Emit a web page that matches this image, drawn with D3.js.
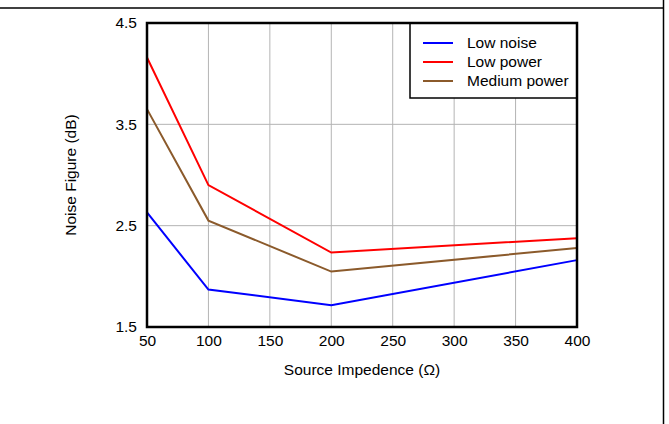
<!DOCTYPE html>
<html><head><meta charset="utf-8">
<script src="https://cdn.jsdelivr.net/npm/d3@7"></script>
<style>body{margin:0;background:#fff}svg{display:block}text{font-family:"Liberation Sans",Arial,sans-serif}</style>
</head><body>
<svg id="c" width="669" height="424"></svg>
<script>
const impedance = [50, 100, 200, 400];
const lowNoise = [2.63, 1.87, 1.715, 2.16];
const lowPower = [4.16, 2.90, 2.235, 2.377];
const mediumPower = [3.65, 2.55, 2.047, 2.28];
const seriesNames = ["Low noise", "Low power", "Medium power"];
const seriesColors = ["#0000ff", "#ff0000", "#8b5a2b"];
const xTicks = [50, 100, 150, 200, 250, 300, 350, 400];
const yTicks = [1.5, 2.5, 3.5, 4.5];

const FS = 15.5;
const svg = d3.select("#c");
const L = 147, R = 577, T = 23, B = 327;
const x = d3.scaleLinear().domain([50, 400]).range([L, R]);
const y = d3.scaleLinear().domain([1.5, 4.5]).range([B, T]);

// outer frame lines
svg.append("line").attr("x1", 0).attr("x2", 663.5).attr("y1", 8).attr("y2", 8).attr("stroke", "#000").attr("stroke-width", 1.5);
svg.append("line").attr("x1", 663.5).attr("x2", 663.5).attr("y1", 0).attr("y2", 424).attr("stroke", "#000").attr("stroke-width", 1.5);

// grid
svg.append("g").selectAll("line").data(xTicks.slice(1, -1)).join("line")
  .attr("x1", d => x(d)).attr("x2", d => x(d)).attr("y1", T).attr("y2", B)
  .attr("stroke", "#b4b4b4").attr("stroke-width", 1);
svg.append("g").selectAll("line").data(yTicks.slice(1, -1)).join("line")
  .attr("x1", L).attr("x2", R).attr("y1", d => y(d)).attr("y2", d => y(d))
  .attr("stroke", "#b4b4b4").attr("stroke-width", 1);

// axes (labels only)
const xAxis = d3.axisBottom(x).tickValues(xTicks).tickSize(0).tickPadding(8).tickFormat(d3.format("d"));
const gx = svg.append("g").attr("transform", `translate(0,${B})`).call(xAxis);
gx.select(".domain").remove();
gx.selectAll("text").attr("font-size", FS).attr("fill", "#000").attr("font-family", "Liberation Sans, Arial, sans-serif");
const yAxis = d3.axisLeft(y).tickValues(yTicks).tickSize(0).tickPadding(10).tickFormat(d3.format(".1f"));
const gy = svg.append("g").attr("transform", `translate(${L},0)`).call(yAxis);
gy.select(".domain").remove();
gy.selectAll("text").attr("font-size", FS).attr("fill", "#000").attr("font-family", "Liberation Sans, Arial, sans-serif");

// series
const allSeries = [lowNoise, lowPower, mediumPower];
const line = d3.line().x((d, i) => x(impedance[i])).y(d => y(d));
svg.append("g").selectAll("path").data(allSeries).join("path")
  .attr("d", d => line(d)).attr("fill", "none")
  .attr("stroke", (d, i) => seriesColors[i]).attr("stroke-width", 2);

// legend
const lg = svg.append("g");
lg.append("rect").attr("x", 410).attr("y", T).attr("width", R - 410).attr("height", 98 - T)
  .attr("fill", "#fff").attr("stroke", "#000").attr("stroke-width", 1.5);
seriesNames.forEach((n, i) => {
  const yy = 43 + i * 19;
  lg.append("line").attr("x1", 423).attr("x2", 453).attr("y1", yy).attr("y2", yy)
    .attr("stroke", seriesColors[i]).attr("stroke-width", 2);
  lg.append("text").attr("x", 467).attr("y", yy).attr("dy", "0.35em")
    .attr("font-size", FS).text(n);
});
// plot frame
svg.append("rect").attr("x", L).attr("y", T).attr("width", R - L).attr("height", B - T)
  .attr("fill", "none").attr("stroke", "#000").attr("stroke-width", 2.5);

// titles
svg.append("text").attr("x", (L + R) / 2).attr("y", 375).attr("text-anchor", "middle")
  .attr("font-size", FS).text("Source Impedence (Ω)");
svg.append("text").attr("transform", `translate(76,${(T + B) / 2}) rotate(-90)`)
  .attr("text-anchor", "middle").attr("font-size", FS).text("Noise Figure (dB)");
</script>
</body></html>
